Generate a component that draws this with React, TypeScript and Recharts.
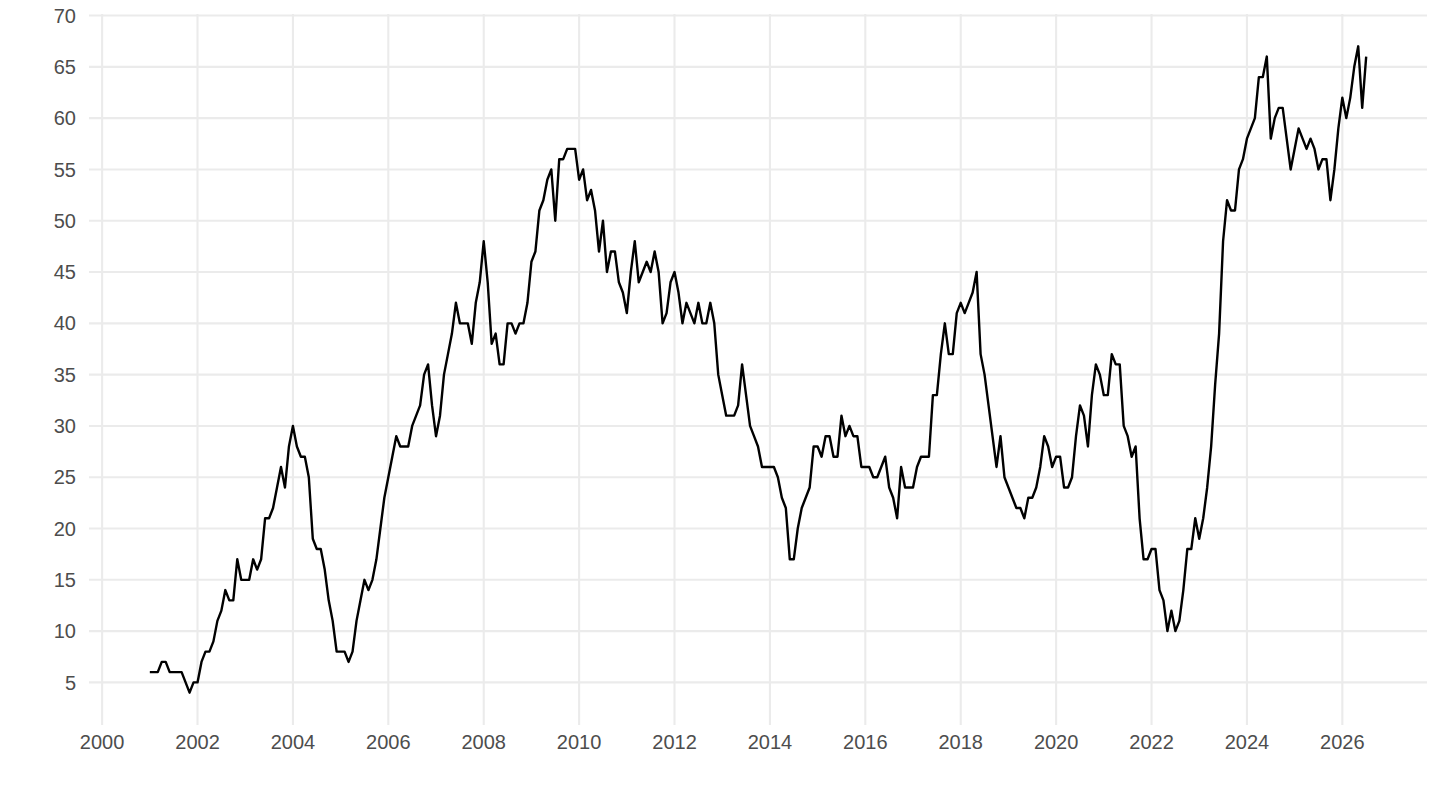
import React from 'react';
import { LineChart, Line, XAxis, YAxis, CartesianGrid } from 'recharts';

// Monthly values, January 2001 onwards
const START_YEAR = 2001;
const v2001 = [6, 6, 6, 7, 7, 6, 6, 6, 6, 5, 4, 5];
const v2002 = [5, 7, 8, 8, 9, 11, 12, 14, 13, 13, 17, 15];
const v2003 = [15, 15, 17, 16, 17, 21, 21, 22, 24, 26, 24, 28];
const v2004 = [30, 28, 27, 27, 25, 19, 18, 18, 16, 13, 11, 8];
const v2005 = [8, 8, 7, 8, 11, 13, 15, 14, 15, 17, 20, 23];
const v2006 = [25, 27, 29, 28, 28, 28, 30, 31, 32, 35, 36, 32];
const v2007 = [29, 31, 35, 37, 39, 42, 40, 40, 40, 38, 42, 44];
const v2008 = [48, 44, 38, 39, 36, 36, 40, 40, 39, 40, 40, 42];
const v2009 = [46, 47, 51, 52, 54, 55, 50, 56, 56, 57, 57, 57];
const v2010 = [54, 55, 52, 53, 51, 47, 50, 45, 47, 47, 44, 43];
const v2011 = [41, 45, 48, 44, 45, 46, 45, 47, 45, 40, 41, 44];
const v2012 = [45, 43, 40, 42, 41, 40, 42, 40, 40, 42, 40, 35];
const v2013 = [33, 31, 31, 31, 32, 36, 33, 30, 29, 28, 26, 26];
const v2014 = [26, 26, 25, 23, 22, 17, 17, 20, 22, 23, 24, 28];
const v2015 = [28, 27, 29, 29, 27, 27, 31, 29, 30, 29, 29, 26];
const v2016 = [26, 26, 25, 25, 26, 27, 24, 23, 21, 26, 24, 24];
const v2017 = [24, 26, 27, 27, 27, 33, 33, 37, 40, 37, 37, 41];
const v2018 = [42, 41, 42, 43, 45, 37, 35, 32, 29, 26, 29, 25];
const v2019 = [24, 23, 22, 22, 21, 23, 23, 24, 26, 29, 28, 26];
const v2020 = [27, 27, 24, 24, 25, 29, 32, 31, 28, 33, 36, 35];
const v2021 = [33, 33, 37, 36, 36, 30, 29, 27, 28, 21, 17, 17];
const v2022 = [18, 18, 14, 13, 10, 12, 10, 11, 14, 18, 18, 21];
const v2023 = [19, 21, 24, 28, 34, 39, 48, 52, 51, 51, 55, 56];
const v2024 = [58, 59, 60, 64, 64, 66, 58, 60, 61, 61, 58, 55];
const v2025 = [57, 59, 58, 57, 58, 57, 55, 56, 56, 52, 55, 59];
const v2026 = [62, 60, 62, 65, 67, 61, 66];

const yearly = [
  v2001, v2002, v2003, v2004, v2005, v2006, v2007, v2008, v2009, v2010,
  v2011, v2012, v2013, v2014, v2015, v2016, v2017, v2018, v2019, v2020,
  v2021, v2022, v2023, v2024, v2025, v2026,
];

const xMajorTicks = [2000, 2002, 2004, 2006, 2008, 2010, 2012, 2014, 2016, 2018, 2020, 2022, 2024, 2026];
const xMinorTicks = [2001, 2003, 2005, 2007, 2009, 2011, 2013, 2015, 2017, 2019, 2021, 2023, 2025, 2027];
const yMajorTicks = [5, 10, 15, 20, 25, 30, 35, 40, 45, 50, 55, 60, 65, 70];
const yMinorTicks = [2.5, 7.5, 12.5, 17.5, 22.5, 27.5, 32.5, 37.5, 42.5, 47.5, 52.5, 57.5, 62.5, 67.5];

const data = yearly.flatMap((arr, yi) =>
  arr.map((v, mi) => ({ t: START_YEAR + yi + mi / 12, value: v }))
);

// ggplot-style 5% expansion of the data range
const expand = (lo: number, hi: number): [number, number] => {
  const d = (hi - lo) * 0.05;
  return [lo - d, hi + d];
};
const ts = data.map((d) => d.t);
const vs = data.map((d) => d.value);
const xDomain = expand(Math.min(...ts), Math.max(...ts));
const yDomain = expand(Math.min(...vs), Math.max(...vs));

const FONT = '"Liberation Sans", Arial, Helvetica, sans-serif';
const tickStyle = { fill: '#4D4D4D', fontSize: 20, fontFamily: FONT };
const GRID = '#EBEBEB';

export default function App() {
  return (
    <div style={{ position: 'absolute', left: 0, top: 0, width: 1440, height: 810, background: '#fff' }}>
      <LineChart width={1440} height={810} data={data} margin={{ top: 14, right: 13, bottom: 0, left: 0 }}>
        <CartesianGrid xAxisId="minorX" yAxisId="minorY" stroke={GRID} strokeWidth={1.1} syncWithTicks />
        <CartesianGrid stroke={GRID} strokeWidth={2.1} syncWithTicks />
        <XAxis
          dataKey="t"
          type="number"
          domain={xDomain}
          allowDataOverflow
          ticks={xMajorTicks}
          interval={0}
          tickFormatter={(v: number) => String(Math.round(v))}
          axisLine={false}
          tickLine={false}
          tickSize={0}
          tickMargin={10}
          height={85}
          tick={tickStyle}
        />
        <XAxis
          xAxisId="minorX"
          dataKey="t"
          type="number"
          domain={xDomain}
          allowDataOverflow
          ticks={xMinorTicks}
          interval={0}
          axisLine={false}
          tickLine={false}
          tick={false}
          height={0}
        />
        <YAxis
          type="number"
          domain={yDomain}
          allowDataOverflow
          ticks={yMajorTicks}
          interval={0}
          axisLine={false}
          tickLine={false}
          tickSize={0}
          tickMargin={13}
          width={89}
          tick={tickStyle}
        />
        <YAxis
          yAxisId="minorY"
          type="number"
          domain={yDomain}
          allowDataOverflow
          ticks={yMinorTicks}
          interval={0}
          axisLine={false}
          tickLine={false}
          tick={false}
          width={0}
        />
        <Line
          type="linear"
          dataKey="value"
          stroke="#000"
          strokeWidth={2.4}
          strokeLinejoin="round"
          dot={false}
          activeDot={false}
          isAnimationActive={false}
        />
      </LineChart>
    </div>
  );
}
